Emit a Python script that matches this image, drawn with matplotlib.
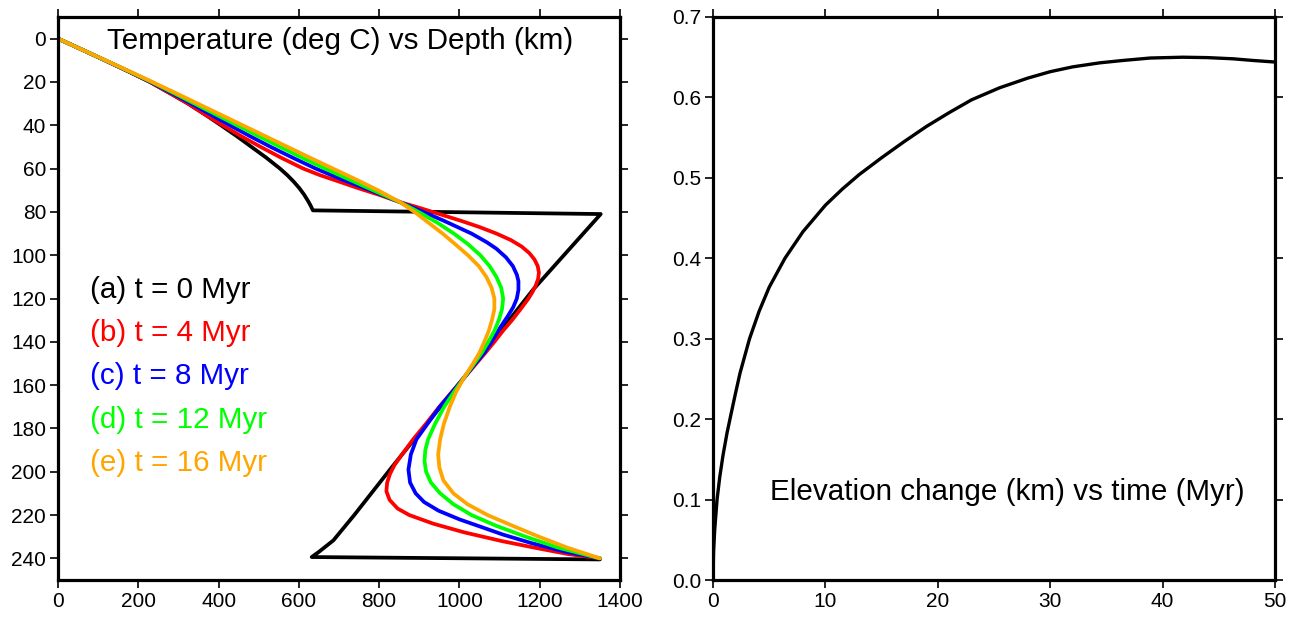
import matplotlib
matplotlib.use("Agg")
import matplotlib.pyplot as plt

plt.rcParams['font.family'] = ['Liberation Sans', 'DejaVu Sans']

# ---------------- Left panel data: temperature (deg C) vs depth (km) ----------------
black_D = [0, 5, 10, 15, 20, 25, 30, 35, 40, 45, 50, 55, 60, 63, 66, 69, 72, 75, 77, 79.3,
           81, 115.8, 156.8, 199, 220, 231.7, 237, 239.4, 240.5]
black_T = [0, 59, 117, 174, 229, 277, 324, 366, 406, 445, 482, 519, 553, 571, 587, 601, 613, 623, 629, 635,
           1352, 1184, 1010, 827, 738, 686, 650, 632, 1350]

red_D = [0, 5, 10, 15, 20, 25, 30, 35, 40, 45, 50, 55, 60, 63, 66, 69, 72, 75.5, 78, 81, 84, 87, 90, 93,
         96, 99, 102, 105, 108, 111, 114, 117, 120, 125, 130, 135, 140, 145, 150, 157, 163, 170, 178, 185,
         192, 197, 201, 205, 209, 213, 217, 220, 224, 228, 232, 235, 238, 240]
red_T = [0, 59, 117, 174, 229, 277, 324, 366, 410, 456, 505, 556, 611, 652, 700, 747, 798, 852, 898, 950,
         1002, 1050, 1092, 1128, 1155, 1174, 1187, 1195, 1198, 1196, 1190, 1182, 1172, 1152, 1131, 1108,
         1087, 1065, 1042, 1010, 982, 950, 916, 885, 857, 838, 827, 820, 818, 826, 846, 875, 935, 1012, 1105,
         1185, 1270, 1350]

blue_D = [0, 5, 10, 15, 20, 25, 30, 35, 40, 45, 50, 55, 60, 65, 70, 75.5, 80, 84, 87, 90, 94, 97, 101, 105,
          109, 112, 116, 120, 124, 128, 133, 140, 145, 150, 157, 163, 170, 178, 185, 192, 199, 205, 210, 214,
          218, 222, 226, 229, 233, 237, 240]
blue_T = [0, 59, 117, 175, 231, 282, 332, 380, 428, 478, 530, 585, 642, 707, 778, 852, 910, 960, 995, 1030,
          1068, 1092, 1116, 1133, 1143, 1147, 1147, 1143, 1134, 1121, 1103, 1080, 1062, 1040, 1010, 983, 951,
          920, 893, 879, 873, 877, 891, 912, 948, 1000, 1062, 1108, 1180, 1265, 1350]

green_D = [0, 5, 10, 15, 20, 25, 30, 35, 40, 45, 50, 55, 60, 65, 70, 75.5, 80, 85, 90, 95, 100, 105, 110,
           115, 120, 125, 130, 135, 140, 145, 150, 157, 163, 170, 178, 185, 190, 195, 200, 205, 210, 215,
           220, 225, 230, 235, 240]
green_T = [0, 59, 118, 176, 233, 287, 340, 393, 446, 499, 553, 608, 665, 725, 785, 852, 898, 945, 986, 1022,
           1052, 1075, 1092, 1104, 1109, 1106, 1098, 1087, 1072, 1056, 1037, 1010, 987, 962, 939, 922, 915,
           913, 917, 929, 952, 985, 1030, 1092, 1165, 1245, 1350]

orange_D = [0, 5, 10, 15, 20, 25, 30, 35, 40, 45, 50, 55, 60, 65, 70, 75.5, 80, 85, 90, 95, 100, 105, 110,
            115, 120, 125, 130, 135, 140, 145, 150, 157, 163, 170, 178, 185, 192, 198, 204, 210, 215, 220,
            225, 230, 235, 240]
orange_T = [0, 59, 118, 177, 235, 292, 348, 404, 460, 516, 572, 628, 685, 742, 797, 852, 888, 923, 958,
            990, 1021, 1048, 1067, 1080, 1087, 1087, 1081, 1073, 1062, 1050, 1034, 1010, 992, 976, 961, 952,
            947, 950, 960, 985, 1020, 1070, 1133, 1198, 1268, 1350]

labels = ["(a) t = 0 Myr", "(b) t = 4 Myr", "(c) t = 8 Myr", "(d) t = 12 Myr", "(e) t = 16 Myr"]
colors = ["#000000", "#ff0000", "#0000ff", "#00ff00", "#ffa500"]

left_xticks = [0, 200, 400, 600, 800, 1000, 1200, 1400]
left_yticks = [0, 20, 40, 60, 80, 100, 120, 140, 160, 180, 200, 220, 240]

# ---------------- Right panel data: elevation change (km) vs time (Myr) ----------------
time_myr = [0, 0.05, 0.15, 0.36, 0.6, 0.89, 1.25, 1.63, 2.0, 2.4, 3.25, 4.1, 5.0, 6.4, 8.0, 10.0, 11.5,
            13.0, 15.0, 17.0, 19.0, 21.0, 23.0, 25.5, 28.0, 30.0, 32.0, 34.4, 36.5, 38.9, 41.8, 44.0, 46.3,
            48.0, 50.0]
elev_km = [0, 0.035, 0.062, 0.100, 0.128, 0.155, 0.183, 0.208, 0.232, 0.257, 0.300, 0.334, 0.364, 0.400,
           0.433, 0.466, 0.486, 0.504, 0.525, 0.545, 0.564, 0.581, 0.597, 0.612, 0.624, 0.632, 0.638, 0.643,
           0.646, 0.649, 0.650, 0.6495, 0.648, 0.646, 0.644]

right_xticks = [0, 10, 20, 30, 40, 50]
right_yticks = [0.0, 0.1, 0.2, 0.3, 0.4, 0.5, 0.6, 0.7]

# ---------------- Figure ----------------
W, H = 1300, 619
fig = plt.figure(figsize=(W / 100, H / 100), dpi=100)
ax1 = fig.add_axes([58 / W, 1 - 580 / H, 562 / W, 563 / H])
ax2 = fig.add_axes([713 / W, 1 - 580 / H, 562 / W, 563 / H])


def style(ax):
    for sp in ax.spines.values():
        sp.set_linewidth(2.3)
    ax.tick_params(direction='out', length=5.5, width=1.2, top=True, right=True,
                   labeltop=False, labelright=False, labelsize=15, pad=3)


curves = [(black_T, black_D), (red_T, red_D), (blue_T, blue_D), (green_T, green_D), (orange_T, orange_D)]
for (T, D), c in zip(curves, colors):
    ax1.plot(T, D, color=c, lw=2.7, solid_joinstyle='round', solid_capstyle='round')

ax1.set_xlim(0, 1400)
ax1.set_ylim(250, -10)
ax1.set_xticks(left_xticks)
ax1.set_yticks(left_yticks)
style(ax1)

ax1.text(702, 1, "Temperature (deg C) vs Depth (km)", ha='center', va='center', fontsize=21.3)
for i, (lab, c) in enumerate(zip(labels, colors)):
    ax1.text(80, 116 + 20 * i, lab, color=c, ha='left', va='center', fontsize=21.3)

ax2.plot(time_myr, elev_km, color='black', lw=2.4, solid_joinstyle='round')
ax2.set_xlim(0, 50)
ax2.set_ylim(0, 0.7)
ax2.set_xticks(right_xticks)
ax2.set_yticks(right_yticks)
ax2.set_yticklabels([f"{v:.1f}" for v in right_yticks])
style(ax2)
ax2.text(26.2, 0.109, "Elevation change (km) vs time (Myr)", ha='center', va='center', fontsize=21.3)

fig.savefig("out.png", dpi=100)
